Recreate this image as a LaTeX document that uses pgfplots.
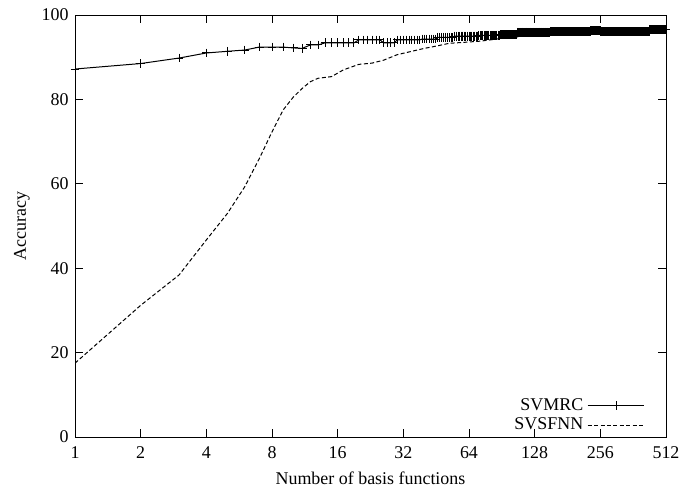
\documentclass[border=0pt]{standalone}
\usepackage{fontspec}
\setmainfont{Liberation Serif}
\usepackage{pgfplots}
\pgfplotsset{compat=1.18}

\begin{document}
\fontsize{9}{10.8}\selectfont
\begin{tikzpicture}
\begin{axis}[
  name=ax,
  scale only axis,
  width=295.5bp, height=211bp,
  xmode=log, log basis x=2,
  xmin=1, xmax=512, ymin=0, ymax=100,
  xtick={1,2,4,8,16,32,64,128,256,512},
  xticklabels={1,2,4,8,16,32,64,128,256,512},
  ytick={0,20,40,60,80,100},
  minor tick num=0,
  tick align=inside,
  major tick length=4bp,
  axis line style={line width=0.5pt},
  tick style={line width=0.5pt,black},
  /pgf/number format/assume math mode=true,
  xticklabel style={yshift=-1.5bp},
  xlabel={Number of basis functions},
  ylabel={Accuracy},
  xlabel style={at={(axis description cs:0.5,-0.097)},anchor=center},
  ylabel style={at={(axis description cs:-0.0897,0.5)},anchor=center},
  legend style={draw=none,fill=none,at={(0.965,0.0)},anchor=south east,
    inner sep=0pt,row sep=-1.5bp},
  legend cell align=right,
  legend plot pos=right,
  legend image code/.code={\draw[mark repeat=2,mark phase=2,#1]
    plot coordinates {(0cm,0cm) (0.5cm,0cm) (1cm,0cm)};},
]
% SVMRC
\addplot[black,line width=0.5pt,mark=+,mark size=2.2bp,mark options={line width=0.5pt}] coordinates {
(1,87.2)(2,88.5)(3,89.8)(4,91.0)(5,91.4)(6,91.7)(7,92.4)(8,92.4)(9,92.4)(10,92.2)
(11,92.1)(12,92.9)(13,92.9)(14,93.4)(15,93.4)(16,93.4)(17,93.4)(18,93.4)(19,93.4)(20,94.1)
(21,94.1)(22,94.1)(23,94.1)(24,94.1)(25,94.1)(26,93.4)(27,93.4)(28,93.4)(29,93.4)(30,94.1)
(31,94.1)(32,94.1)(33,94.1)(34,94.1)(35,94.1)(36,94.1)(37,94.1)(38,94.1)(39,94.3)(40,94.3)
(41,94.3)(42,94.3)(43,94.3)(44,94.3)(45,94.3)(46,94.7)(47,94.7)(48,94.7)(49,94.7)(50,94.7)
(51,94.7)(52,94.7)(53,94.7)(54,94.7)(55,95.0)(56,95.0)(57,95.0)(58,95.0)(59,95.0)(60,95.0)
(61,95.0)(62,95.0)(63,95.0)(64,95.0)(65,95.0)(66,95.0)(67,95.0)(68,95.0)(69,95.0)(70,95.0)
(71,95.2)(72,95.2)(73,95.2)(74,95.2)(75,95.2)(76,95.2)(77,95.2)(78,95.2)(79,95.2)(80,95.2)
(81,95.2)(82,95.2)(83,95.2)(84,95.2)(85,95.2)(86,95.2)(87,95.2)(88,95.2)(89,95.4)(90,95.4)
(91,95.4)(92,95.4)(93,95.4)(94,95.4)(95,95.4)(96,95.4)(97,95.4)(98,95.4)(99,95.4)(100,95.4)
(101,95.4)(102,95.4)(103,95.4)(104,95.4)(105,95.4)(106,95.4)(107,95.9)(108,95.9)(109,95.9)(110,95.9)
(111,95.9)(112,95.9)(113,95.9)(114,95.9)(115,95.9)(116,95.9)(117,95.9)(118,95.9)(119,95.9)(120,95.9)
(121,95.9)(122,95.9)(123,95.9)(124,95.9)(125,95.9)(126,95.9)(127,95.9)(128,95.9)(129,95.9)(130,95.9)
(131,95.9)(132,95.9)(133,95.9)(134,95.9)(135,95.9)(136,95.9)(137,95.9)(138,95.9)(139,95.9)(140,95.9)
(141,95.9)(142,95.9)(143,95.9)(144,95.9)(145,95.9)(146,95.9)(147,95.9)(148,95.9)(149,95.9)(150,95.9)
(151,96.0)(152,96.0)(153,96.0)(154,96.0)(155,96.0)(156,96.0)(157,96.0)(158,96.0)(159,96.0)(160,96.0)
(161,96.0)(162,96.0)(163,96.0)(164,96.0)(165,96.0)(166,96.0)(167,96.0)(168,96.0)(169,96.0)(170,96.0)
(171,96.0)(172,96.0)(173,96.0)(174,96.0)(175,96.0)(176,96.0)(177,96.0)(178,96.0)(179,96.0)(180,96.0)
(181,96.0)(182,96.0)(183,96.0)(184,96.0)(185,96.0)(186,96.1)(187,96.1)(188,96.1)(189,96.1)(190,96.1)
(191,96.1)(192,96.1)(193,96.1)(194,96.1)(195,96.1)(196,96.1)(197,96.1)(198,96.1)(199,96.1)(200,96.1)
(201,96.1)(202,96.1)(203,96.1)(204,96.1)(205,96.1)(206,96.1)(207,96.1)(208,96.1)(209,96.1)(210,96.1)
(211,96.1)(212,96.1)(213,96.1)(214,96.1)(215,96.1)(216,96.1)(217,96.1)(218,96.1)(219,96.1)(220,96.1)
(221,96.1)(222,96.1)(223,96.1)(224,96.1)(225,96.1)(226,96.1)(227,96.1)(228,96.1)(229,96.1)(230,96.1)
(231,96.3)(232,96.3)(233,96.3)(234,96.3)(235,96.3)(236,96.3)(237,96.3)(238,96.3)(239,96.3)(240,96.3)
(241,96.3)(242,96.3)(243,96.3)(244,96.3)(245,96.3)(246,96.3)(247,96.3)(248,96.3)(249,96.3)(250,96.3)
(251,96.3)(252,96.3)(253,96.3)(254,96.3)(255,96.3)(256,96.3)(257,96.1)(258,96.1)(259,96.1)(260,96.1)
(261,96.1)(262,96.1)(263,96.1)(264,96.1)(265,96.1)(266,96.1)(267,96.1)(268,96.1)(269,96.1)(270,96.1)
(271,96.1)(272,96.1)(273,96.1)(274,96.1)(275,96.1)(276,96.1)(277,96.1)(278,96.1)(279,96.1)(280,96.1)
(281,96.1)(282,96.1)(283,96.1)(284,96.1)(285,96.1)(286,96.1)(287,96.1)(288,96.1)(289,96.1)(290,96.1)
(291,96.1)(292,96.1)(293,96.1)(294,96.1)(295,96.1)(296,96.1)(297,96.1)(298,96.1)(299,96.1)(300,96.1)
(301,96.1)(302,96.1)(303,96.1)(304,96.1)(305,96.1)(306,96.1)(307,96.1)(308,96.1)(309,96.1)(310,96.1)
(311,96.1)(312,96.1)(313,96.1)(314,96.1)(315,96.1)(316,96.1)(317,96.1)(318,96.1)(319,96.1)(320,96.1)
(321,96.1)(322,96.1)(323,96.1)(324,96.1)(325,96.1)(326,96.1)(327,96.1)(328,96.1)(329,96.1)(330,96.1)
(331,96.1)(332,96.1)(333,96.1)(334,96.1)(335,96.1)(336,96.1)(337,96.1)(338,96.1)(339,96.1)(340,96.1)
(341,96.1)(342,96.1)(343,96.1)(344,96.1)(345,96.1)(346,96.1)(347,96.1)(348,96.1)(349,96.1)(350,96.1)
(351,96.1)(352,96.1)(353,96.1)(354,96.1)(355,96.1)(356,96.1)(357,96.1)(358,96.1)(359,96.1)(360,96.1)
(361,96.1)(362,96.1)(363,96.1)(364,96.1)(365,96.1)(366,96.1)(367,96.1)(368,96.1)(369,96.1)(370,96.1)
(371,96.1)(372,96.1)(373,96.1)(374,96.1)(375,96.1)(376,96.1)(377,96.1)(378,96.1)(379,96.1)(380,96.1)
(381,96.1)(382,96.1)(383,96.1)(384,96.1)(385,96.1)(386,96.1)(387,96.1)(388,96.1)(389,96.1)(390,96.1)
(391,96.1)(392,96.1)(393,96.1)(394,96.1)(395,96.1)(396,96.1)(397,96.1)(398,96.1)(399,96.1)(400,96.1)
(401,96.1)(402,96.1)(403,96.1)(404,96.1)(405,96.1)(406,96.1)(407,96.1)(408,96.1)(409,96.1)(410,96.1)
(411,96.1)(412,96.1)(413,96.1)(414,96.1)(415,96.1)(416,96.1)(417,96.1)(418,96.1)(419,96.1)(420,96.1)
(421,96.1)(422,96.1)(423,96.1)(424,96.1)(425,96.1)(426,96.1)(427,96.1)(428,96.1)(429,96.1)(430,96.1)
(431,96.5)(432,96.5)(433,96.5)(434,96.5)(435,96.5)(436,96.5)(437,96.5)(438,96.5)(439,96.5)(440,96.5)
(441,96.5)(442,96.5)(443,96.5)(444,96.5)(445,96.5)(446,96.5)(447,96.5)(448,96.5)(449,96.5)(450,96.5)
(451,96.5)(452,96.5)(453,96.5)(454,96.5)(455,96.5)(456,96.5)(457,96.5)(458,96.5)(459,96.5)(460,96.5)
(461,96.5)(462,96.5)(463,96.5)(464,96.5)(465,96.5)(466,96.5)(467,96.5)(468,96.5)(469,96.5)(470,96.5)
(471,96.5)(472,96.5)(473,96.5)(474,96.5)(475,96.5)(476,96.5)(477,96.5)(478,96.5)(479,96.5)(480,96.5)
(481,96.5)(482,96.5)(483,96.5)(484,96.5)(485,96.5)(486,96.5)(487,96.5)(488,96.5)(489,96.5)(490,96.5)
(491,96.5)(492,96.5)(493,96.5)(494,96.5)(495,96.5)(496,96.5)(497,96.5)(498,96.5)(499,96.5)(500,96.5)
(501,96.5)(502,96.5)(503,96.5)(504,96.5)(505,96.5)(506,96.5)(507,96.5)(508,96.5)(509,96.5)(510,96.5)
(511,96.5)(512,96.5)
};
\addlegendentry{SVMRC}
% SVSFNN
\addplot[black,line width=0.5pt,dash pattern=on 2bp off 1.2bp] coordinates {
(1,17.5)(2,31.2)(3,38.4)(4,46.7)(5,53.0)(6,59.3)(7,66.0)(8,72.3)(9,77.5)(10,80.5)
(11,82.6)(12,84.2)(13,85.0)(15,85.4)(17,87.0)(20,88.3)(23,88.6)(26,89.3)(30,90.6)(35,91.4)
(40,92.1)(46,92.7)(52,93.3)(60,93.5)(72,93.8)(92,94.5)(110,94.9)(128,95.2)(160,95.4)(200,95.6)
(256,95.8)(320,96.0)(400,96.2)(512,96.3)
};
\addlegendentry{SVSFNN}
\end{axis}
\path ([xshift=-37.5bp,yshift=-25bp]ax.south west) rectangle ([xshift=16bp,yshift=7.5bp]ax.north east);
\end{tikzpicture}
\end{document}
